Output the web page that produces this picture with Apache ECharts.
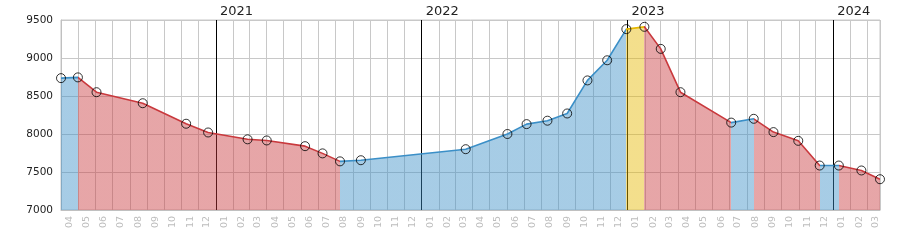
<!DOCTYPE html>
<html><head><meta charset="utf-8">
<script src="https://cdn.jsdelivr.net/npm/echarts@6/dist/echarts.min.js"></script>
<style>html,body{margin:0;padding:0;background:#fff}#c{width:900px;height:250px}</style>
</head><body><div id="c"></div>
<script>
// ---- data ----
const dates = ['2020-04-01','2020-05-01','2020-06-03','2020-08-24','2020-11-09','2020-12-18',
  '2021-02-26','2021-04-01','2021-06-08','2021-07-09','2021-08-09','2021-09-15',
  '2022-03-20','2022-06-02','2022-07-06','2022-08-12','2022-09-16','2022-10-22','2022-11-26','2022-12-30',
  '2023-01-31','2023-03-01','2023-04-05','2023-07-04','2023-08-13','2023-09-17','2023-10-31','2023-12-08',
  '2024-01-11','2024-02-20','2024-03-24'];
const values = [8735,8745,8550,8405,8135,8020,
  7930,7915,7840,7745,7640,7655,
  7800,8000,8130,8175,8270,8705,8970,9380,
  9410,9120,8550,8150,8200,8025,7910,7585,
  7585,7520,7405];
const yearLines = ['2021-01-01','2022-01-01','2023-01-01','2024-01-01'];
const yMin = 7000, yMax = 9500, yStep = 500;

// ---- helpers ----
const DAY = 86400000;
function toTs(s){ const p = s.split('-').map(Number); return new Date(p[0], p[1]-1, p[2]).getTime(); }
const ts = dates.map(toTs);
const tMin = ts[0], tMax = ts[ts.length-1];
const pad = n => (n < 10 ? '0' : '') + n;

const COLORS = { up: '#3b8fc7', down: '#c9393d', peak: '#e6b800' };
let peak = 0;
values.forEach((v,i)=>{ if (v > values[peak]) peak = i; });
const pieces = [];
for (let i = 0; i < values.length - 1; i++) {
  let kind = (i + 1 === peak) ? 'peak' : (values[i+1] >= values[i] ? 'up' : 'down');
  const p = { gte: ts[i], color: COLORS[kind] };
  if (i < values.length - 2) p.lt = ts[i+1]; else p.lte = ts[i+1];
  pieces.push(p);
}

const lineData = ts.map((t,i)=>[t, values[i]]);
const shift = 15 * DAY;
const FONT = 'DejaVu Sans';

const chart = echarts.init(document.getElementById('c'), null, { renderer: 'canvas' });
chart.setOption({
  animation: false,
  grid: { left: 61, right: 20, top: 20, bottom: 40, show: true, borderColor: '#c8c8c8', borderWidth: 1, backgroundColor: 'transparent' },
  visualMap: { type: 'piecewise', show: false, dimension: 0, seriesIndex: 0, pieces: pieces },
  xAxis: [
    { type: 'time', min: tMin, max: tMax, splitNumber: 48, minInterval: 28*DAY, maxInterval: 31*DAY,
      axisLabel: { show: false }, axisTick: { show: false },
      axisLine: { show: true, lineStyle: { color: '#c0c0c0' } },
      splitLine: { show: true, lineStyle: { color: '#c8c8c8', width: 1 } } },
    { type: 'time', position: 'bottom', min: tMin - shift, max: tMax - shift, splitNumber: 48, minInterval: 28*DAY, maxInterval: 31*DAY,
      axisLine: { show: false }, axisTick: { show: false }, splitLine: { show: false },
      axisLabel: { show: true, rotate: 90, margin: 6, color: '#bdbdbd', fontSize: 9.5, fontFamily: FONT,
        showMinLabel: true, showMaxLabel: true, hideOverlap: false,
        formatter: function (v) { const d = new Date(v); return d.getDate() === 1 ? pad(d.getMonth()+1) : ''; } } },
    { type: 'time', position: 'top', min: tMin, max: tMax, splitNumber: 4, minInterval: 365*DAY, maxInterval: 366*DAY,
      axisLine: { show: false }, axisTick: { show: false }, splitLine: { show: false },
      axisLabel: { show: true, color: '#222', fontSize: 13, fontFamily: FONT, align: 'left', margin: 2, padding: [0,0,0,4],
        showMinLabel: true, showMaxLabel: true, hideOverlap: false,
        formatter: function (v) { const d = new Date(v); return (d.getDate() === 1 && d.getMonth() === 0) ? String(d.getFullYear()) : ''; } } }
  ],
  yAxis: { type: 'value', min: yMin, max: yMax, interval: yStep,
    axisLine: { show: true, lineStyle: { color: '#c0c0c0' } }, axisTick: { show: false },
    axisLabel: { color: '#222', fontSize: 10.5, fontFamily: FONT, margin: 8, formatter: v => String(v) },
    splitLine: { show: true, lineStyle: { color: '#c8c8c8', width: 1 } } },
  series: [
    { type: 'line', xAxisIndex: 0, data: lineData, showSymbol: false, symbol: 'none',
      lineStyle: { width: 1.6 }, areaStyle: { opacity: 0.45, origin: 'start' }, z: 2,
      markLine: { silent: true, symbol: 'none', z: 1, animation: false, label: { show: false },
        lineStyle: { color: '#000', width: 1, type: 'solid' },
        data: yearLines.map(s => ({ xAxis: toTs(s) })) } },
    { type: 'scatter', xAxisIndex: 0, data: lineData, symbol: 'circle', symbolSize: 9, z: 5,
      itemStyle: { color: 'rgba(0,0,0,0)', borderColor: '#000', borderWidth: 1 } }
  ]
});
</script></body></html>
